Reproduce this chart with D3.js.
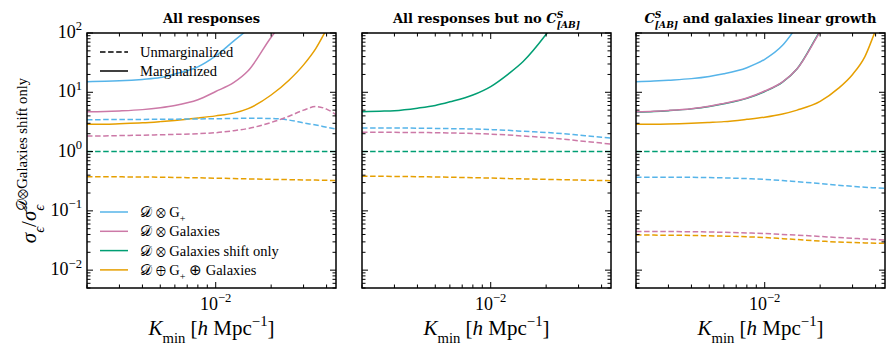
<!DOCTYPE html>
<html>
<head>
<meta charset="utf-8">
<script src="https://cdn.jsdelivr.net/npm/d3@7"></script>
<style>
  html, body { margin: 0; padding: 0; background: #fff; }
</style>
</head>
<body>
<div id="chart"></div>
<script>
/* ── Data ─────────────────────────────────────────────────────────────── */
const K_MIN = [0.002, 0.0025, 0.003, 0.004, 0.005, 0.006, 0.008, 0.01,
               0.0125, 0.015, 0.02, 0.025, 0.03, 0.035, 0.04, 0.045];

// panel 1: all responses
const allGplusMarg   = [15.1, 15.3, 15.6, 16.5, 17.7, 20.4, 26.8, 41, 73, 115, null, null, null, null, null, null];
const allGalMarg     = [4.7, 4.75, 4.85, 5.1, 5.5, 6.0, 7.5, 10.3, 14.5, 23, 85, 200, null, null, null, null];
const allSumMarg     = [2.9, 2.9, 2.95, 3.05, 3.2, 3.35, 3.68, 4.0, 4.45, 5.3, 9.0, 16, 29, 55, 115, 220];
const allGplusUnmarg = [3.45, 3.46, 3.47, 3.49, 3.5, 3.52, 3.55, 3.58, 3.62, 3.64, 3.62, 3.4, 3.05, 2.8, 2.58, 2.4];
const allGalUnmarg   = [1.83, 1.84, 1.86, 1.89, 1.92, 1.95, 2.0, 2.08, 2.25, 2.45, 3.1, 3.95, 5.0, 5.75, 5.2, 4.2];
const allShiftUnmarg = [1, 1, 1, 1, 1, 1, 1, 1, 1, 1, 1, 1, 1, 1, 1, 1];
const allSumUnmarg   = [0.378, 0.377, 0.375, 0.372, 0.37, 0.366, 0.361, 0.356, 0.351, 0.346, 0.34, 0.336, 0.332, 0.33, 0.327, 0.325];

// panel 2: all responses but no C^S_[AB]
const noCShiftMarg   = [4.7, 4.8, 4.9, 5.4, 6.0, 6.9, 9.0, 12.5, 20.5, 33, 95, 250, null, null, null, null];
const noCGplusUnmarg = [2.5, 2.5, 2.5, 2.48, 2.46, 2.44, 2.4, 2.35, 2.28, 2.2, 2.1, 2.0, 1.9, 1.82, 1.75, 1.68];
const noCGalUnmarg   = [2.12, 2.12, 2.11, 2.1, 2.08, 2.06, 2.02, 1.97, 1.9, 1.83, 1.72, 1.62, 1.52, 1.45, 1.39, 1.34];
const noCShiftUnmarg = [1, 1, 1, 1, 1, 1, 1, 1, 1, 1, 1, 1, 1, 1, 1, 1];
const noCSumUnmarg   = [0.385, 0.383, 0.381, 0.377, 0.373, 0.369, 0.363, 0.357, 0.351, 0.346, 0.34, 0.335, 0.331, 0.328, 0.325, 0.323];

// panel 3: C^S_[AB] and galaxies linear growth
const linGplusMarg   = [15.1, 15.5, 16.0, 17.0, 18.5, 20.5, 26, 36, 62, 130, null, null, null, null, null, null];
const linShiftMarg   = [4.65, 4.75, 4.9, 5.25, 5.75, 6.4, 7.9, 10.3, 14.8, 25, 108, 300, null, null, null, null];
const linGalMarg     = [4.7, 4.8, 4.95, 5.3, 5.8, 6.5, 8.0, 10.5, 15, 25, 105, 300, null, null, null, null];
const linSumMarg     = [2.9, 2.9, 2.92, 3.0, 3.1, 3.2, 3.5, 3.8, 4.3, 5.0, 7.0, 11.5, 20, 40, 110, 250];
const linGplusUnmarg = [0.37, 0.37, 0.37, 0.368, 0.365, 0.36, 0.35, 0.34, 0.325, 0.31, 0.29, 0.27, 0.26, 0.25, 0.245, 0.24];
const linGalUnmarg   = [0.045, 0.045, 0.0448, 0.0445, 0.044, 0.0435, 0.0425, 0.0415, 0.040, 0.039, 0.037, 0.0355, 0.0345, 0.0335, 0.0328, 0.0322];
const linShiftUnmarg = [1, 1, 1, 1, 1, 1, 1, 1, 1, 1, 1, 1, 1, 1, 1, 1];
const linSumUnmarg   = [0.039, 0.039, 0.0388, 0.0385, 0.038, 0.0375, 0.0365, 0.0355, 0.034, 0.0328, 0.031, 0.0298, 0.0292, 0.0288, 0.0285, 0.0283];

const X_DOMAIN = [0.002, 0.045];
const Y_DOMAIN = [0.005, 100];

const COLORS = { gplus: '#56B4E9', gal: '#CC79A7', shift: '#009E73', sum: '#E69F00' };

const PANELS = [
  { title: [{ t: 'All responses' }],
    series: [
      [allGplusMarg, 'gplus', false], [allGalMarg, 'gal', false], [allSumMarg, 'sum', false],
      [allGplusUnmarg, 'gplus', true], [allGalUnmarg, 'gal', true],
      [allShiftUnmarg, 'shift', true], [allSumUnmarg, 'sum', true]] },
  { title: [{ t: 'All responses but no ' }, { t: 'C', it: 1 }, { t: 'S', it: 1, pos: 'sup' }, { t: '[AB]', it: 1, pos: 'sub', back: 1 }],
    series: [
      [noCShiftMarg, 'shift', false],
      [noCGplusUnmarg, 'gplus', true], [noCGalUnmarg, 'gal', true],
      [noCShiftUnmarg, 'shift', true], [noCSumUnmarg, 'sum', true]] },
  { title: [{ t: 'C', it: 1 }, { t: 'S', it: 1, pos: 'sup' }, { t: '[AB]', it: 1, pos: 'sub', back: 1 }, { t: ' and galaxies linear growth' }],
    series: [
      [linGplusMarg, 'gplus', false], [linShiftMarg, 'shift', false], [linGalMarg, 'gal', false], [linSumMarg, 'sum', false],
      [linGplusUnmarg, 'gplus', true], [linGalUnmarg, 'gal', true],
      [linShiftUnmarg, 'shift', true], [linSumUnmarg, 'sum', true]] }
];

const LEGEND_ITEMS = [
  { key: 'gplus', runs: [{ t: '𝒟 ⊗ G' }, { t: '+', pos: 'sub' }] },
  { key: 'gal',   runs: [{ t: '𝒟 ⊗ Galaxies' }] },
  { key: 'shift', runs: [{ t: '𝒟 ⊗ Galaxies shift only' }] },
  { key: 'sum',   runs: [{ t: '𝒟 ⊕ G' }, { t: '+', pos: 'sub' }, { t: ' ⊕ Galaxies' }] }
];

/* ── Layout ───────────────────────────────────────────────────────────── */
const TW = 896, TH = 356;
const LEFTS = [87, 362, 636];
const PW = 249, PTOP = 33, PH = 255;
const DASH = '5.5,2.6';
const SERIF = "'Liberation Serif'";
const BOLD_SERIF = "'DejaVu Serif'";

const svg = d3.select('#chart').append('svg').attr('width', TW).attr('height', TH)
  .style('display', 'block');

const x = d3.scaleLog().domain(X_DOMAIN).range([0, PW]);
const y = d3.scaleLog().domain(Y_DOMAIN).range([PH, 0]);

const isMajor = t => Math.abs(Math.log10(t) - Math.round(Math.log10(t))) < 1e-6;

// a bit of "math" text: runs on the baseline, raised or lowered; "back" stacks under the previous run
function addRuns(text, runs, size) {
  let cur = 0, prevW = 0;
  runs.forEach(r => {
    const pos = r.pos || 'base';
    const off = pos === 'sup' ? -0.42 * size : pos === 'sub' ? 0.36 * size : 0;
    const ts = text.append('tspan')
      .attr('dy', off - cur)
      .style('font-size', (pos === 'base' ? size : size * 0.7) + 'px')
      .style('font-style', r.it ? 'italic' : null)
      .text(r.t);
    if (r.back) ts.attr('dx', -prevW);
    cur = off;
    prevW = ts.node().getComputedTextLength();
  });
}

function serifText(sel) {
  return sel.append('text').style('font-family', SERIF).attr('fill', '#000');
}

const line = vals => d3.line()
  .defined((d, i) => vals[i] != null)
  .x((d, i) => x(K_MIN[i]))
  .y((d, i) => y(vals[i]))
  .curve(d3.curveMonotoneX)(vals);

/* ── Panels ───────────────────────────────────────────────────────────── */
PANELS.forEach((p, pi) => {
  const g = svg.append('g').attr('transform', `translate(${LEFTS[pi]},${PTOP})`);

  svg.append('defs').append('clipPath').attr('id', `clip${pi}`)
    .append('rect').attr('width', PW).attr('height', PH);

  const plot = g.append('g').attr('clip-path', `url(#clip${pi})`);
  p.series.forEach(([vals, key, dashed]) => {
    plot.append('path')
      .attr('d', line(vals))
      .attr('fill', 'none')
      .attr('stroke', COLORS[key])
      .attr('stroke-width', 1.5)
      .attr('stroke-dasharray', dashed ? DASH : null);
  });

  // ticks, inward on all four sides
  const tk = g.append('g').attr('stroke', '#000').attr('stroke-width', 1);
  x.ticks().forEach(t => {
    const L = isMajor(t) ? 6 : 3.5, xx = x(t);
    tk.append('line').attr('x1', xx).attr('x2', xx).attr('y1', PH).attr('y2', PH - L);
    tk.append('line').attr('x1', xx).attr('x2', xx).attr('y1', 0).attr('y2', L);
    if (isMajor(t)) {
      const tt = serifText(g).attr('x', xx).attr('y', PH + 22).attr('text-anchor', 'middle');
      addRuns(tt, [{ t: '10' }, { t: '−' + Math.round(-Math.log10(t)), pos: 'sup' }], 18);
    }
  });
  y.ticks().forEach(t => {
    const L = isMajor(t) ? 6 : 3.5, yy = y(t);
    tk.append('line').attr('x1', 0).attr('x2', L).attr('y1', yy).attr('y2', yy);
    tk.append('line').attr('x1', PW).attr('x2', PW - L).attr('y1', yy).attr('y2', yy);
    if (pi === 0 && isMajor(t)) {
      const e = Math.round(Math.log10(t));
      const tt = serifText(g).attr('x', -5).attr('y', yy + 5).attr('text-anchor', 'end');
      addRuns(tt, [{ t: '10' }, { t: (e < 0 ? '−' : '') + Math.abs(e), pos: 'sup' }], 18);
    }
  });

  g.append('rect').attr('width', PW).attr('height', PH)
    .attr('fill', 'none').attr('stroke', '#000').attr('stroke-width', 1.5);

  // title
  const title = g.append('text').attr('x', PW / 2).attr('y', -10)
    .attr('text-anchor', 'middle')
    .style('font-family', BOLD_SERIF).style('font-weight', 'bold');
  addRuns(title, p.title, 13);

  // x label
  const xl = serifText(g).attr('x', PW / 2).attr('y', PH + 47).attr('text-anchor', 'middle');
  addRuns(xl, [{ t: 'K', it: 1 }, { t: 'min', pos: 'sub' }, { t: ' [' }, { t: 'h', it: 1 },
               { t: ' Mpc' }, { t: '−1', pos: 'sup' }, { t: ']' }], 21);
});

/* ── Y label ──────────────────────────────────────────────────────────── */
const yl = serifText(svg)
  .attr('transform', `translate(36,${PTOP + PH / 2}) rotate(-90)`)
  .attr('text-anchor', 'middle');
addRuns(yl, [{ t: 'σ', it: 1 }, { t: 'ϵ', it: 1, pos: 'sub' }, { t: '/' }, { t: 'σ', it: 1 },
             { t: 'ϵ', it: 1, pos: 'sub' }, { t: '𝒟⊗Galaxies shift only', pos: 'sup', back: 1 }], 21);

/* ── Legends (in panel 1) ─────────────────────────────────────────────── */
const leg = svg.append('g').attr('transform', `translate(${LEFTS[0]},${PTOP})`);

[['Unmarginalized', true, 19], ['Marginalized', false, 38]].forEach(([lab, dashed, yy]) => {
  leg.append('line').attr('x1', 13).attr('x2', 41).attr('y1', yy).attr('y2', yy)
    .attr('stroke', '#000').attr('stroke-width', 1.5)
    .attr('stroke-dasharray', dashed ? DASH : null);
  serifText(leg).attr('x', 53).attr('y', yy + 5).style('font-size', '14.5px').text(lab);
});

LEGEND_ITEMS.forEach((it, i) => {
  const yy = 179 + i * 19.3;
  leg.append('line').attr('x1', 13).attr('x2', 41).attr('y1', yy).attr('y2', yy)
    .attr('stroke', COLORS[it.key]).attr('stroke-width', 1.5);
  const tt = serifText(leg).attr('x', 53).attr('y', yy + 5);
  addRuns(tt, it.runs, 14.5);
});
</script>
</body>
</html>
